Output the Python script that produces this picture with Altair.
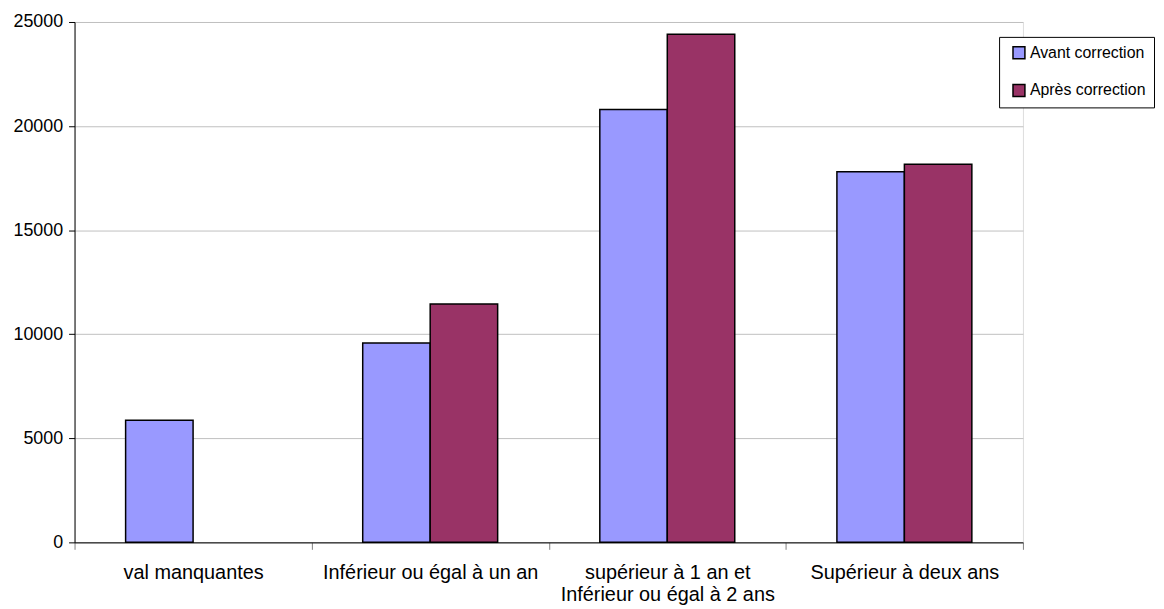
import altair as alt
import pandas as pd

categories = [
    "val manquantes",
    "Inférieur ou égal à un an",
    "supérieur à 1 an et\nInférieur ou égal à 2 ans",
    "Supérieur à deux ans",
]
series = ["Avant correction", "Après correction"]
avant = [5870, 9580, 20800, 17800]
apres = [None, 11450, 24410, 18170]
colors = ["#9999FF", "#993366"]
y_ticks = [0, 5000, 10000, 15000, 20000, 25000]

rows = []
for c, a, b in zip(categories, avant, apres):
    rows.append({"cat": c, "serie": series[0], "val": a})
    if b is not None:
        rows.append({"cat": c, "serie": series[1], "val": b})
df = pd.DataFrame(rows)

FONT = "Liberation Sans"

chart = (
    alt.Chart(df)
    .mark_bar(stroke="black", strokeWidth=1.5)
    .encode(
        x=alt.X(
            "cat:N",
            sort=categories,
            title=None,
            scale=alt.Scale(paddingInner=0, paddingOuter=0),
            axis=alt.Axis(
                labelAngle=0,
                labelExpr="split(datum.label, '\\n')",
                labelFontSize=20,
                labelFont=FONT,
                labelColor="black",
                labelBaseline="top",
                labelLineHeight=23,
                labelPadding=13,
                labelLimit=0,
                tickBand="extent",
                tickSize=7,
                tickColor="#808080",
                domainColor="black",
                domainWidth=1,
                grid=False,
            ),
        ),
        xOffset=alt.XOffset(
            "serie:N",
            sort=series,
            scale=alt.Scale(paddingInner=0, paddingOuter=0.757),
        ),
        y=alt.Y(
            "val:Q",
            title=None,
            scale=alt.Scale(domain=[0, 25000], nice=False),
            axis=alt.Axis(
                values=y_ticks,
                format="d",
                labelFontSize=18,
                labelFont=FONT,
                labelColor="black",
                labelPadding=6,
                tickSize=6,
                tickColor="black",
                domainColor="black",
                domainWidth=1,
                gridColor="#c0c0c0",
                gridWidth=1,
            ),
        ),
        color=alt.Color(
            "serie:N",
            sort=series,
            scale=alt.Scale(domain=series, range=colors),
            legend=alt.Legend(
                title=None,
                orient="none",
                legendX=931,
                legendY=15,
                symbolType="square",
                symbolSize=144,
                symbolStrokeColor="black",
                symbolStrokeWidth=1.5,
                symbolOpacity=1,
                symbolOffset=4,
                labelFontSize=16,
                labelFont=FONT,
                labelColor="black",
                labelOffset=3,
                labelLimit=0,
                rowPadding=20,
                padding=8,
                strokeColor="black",
                fillColor="white",
            ),
        ),
    )
    .properties(
        width=955,
        height=524,
        autosize=alt.AutoSizeParams(type="none"),
        padding={"left": 67, "top": 12, "right": 134, "bottom": 64},
    )
    .configure_view(stroke=None)
    .configure(background="white")
)

chart.save("out.html", embed_options={"renderer": "svg", "actions": False})
